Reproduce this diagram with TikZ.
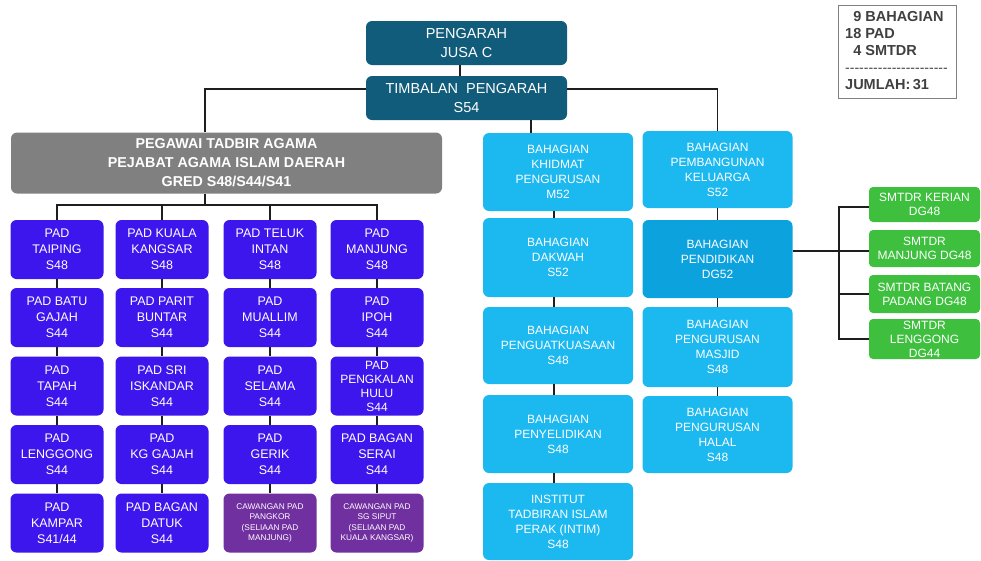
\documentclass[tikz,border=0pt]{standalone}
\usepackage{fontspec}
\setmainfont{Liberation Sans}
\definecolor{tealc}{RGB}{16,92,122}
\definecolor{grayc}{RGB}{128,128,128}
\definecolor{padc}{RGB}{60,22,236}
\definecolor{violc}{RGB}{112,48,160}
\definecolor{bluec}{RGB}{28,184,240}
\definecolor{bluedk}{RGB}{12,162,222}
\definecolor{greenc}{RGB}{62,192,62}
\definecolor{legtext}{RGB}{64,64,64}
\definecolor{linec}{RGB}{30,30,30}
\tikzset{
  base/.style={rounded corners=6pt, inner sep=0pt, align=center, text=white},
  topbox/.style={base, fill=tealc, minimum width=201pt, minimum height=44pt, font=\fontsize{14.5}{19}\selectfont},
  graybox/.style={base, fill=grayc, minimum width=431pt, minimum height=61pt, font=\bfseries\fontsize{14.3}{19}\selectfont},
  padbox/.style={base, fill=padc, minimum width=93pt, minimum height=59pt, font=\fontsize{12.5}{16}\selectfont},
  cawbox/.style={base, fill=violc, minimum width=93pt, minimum height=59pt, font=\fontsize{8.3}{10.2}\selectfont},
  bahbox/.style={base, fill=bluec, minimum width=150pt, font=\fontsize{12}{15}\selectfont},
  grnbox/.style={base, fill=greenc, minimum width=111pt, rounded corners=4pt, font=\fontsize{12}{14}\selectfont},
  conn/.style={draw=linec, line width=1.1pt},
}
\begin{document}
\begin{tikzpicture}[x=1pt,y=-1pt]
\useasboundingbox (0,0) rectangle (981,560);
% top
\node[topbox] (peng) at (466.5,43) {PENGARAH\\JUSA C};
\node[topbox] (tim) at (466.5,98) {TIMBALAN\ \ PENGARAH\\S54};
\node[graybox] (gray) at (226.5,163) {PEGAWAI TADBIR AGAMA\\PEJABAT AGAMA ISLAM DAERAH\\GRED S48/S44/S41};
% PAD columns
\node[padbox] (p11) at (57,249.5) {PAD\\TAIPING\\S48};
\node[padbox] (p12) at (57,317.5) {PAD BATU\\GAJAH\\S44};
\node[padbox] (p13) at (57,386) {PAD\\TAPAH\\S44};
\node[padbox] (p14) at (57,454.5) {PAD\\LENGGONG\\S44};
\node[padbox] (p15) at (57,523) {PAD\\KAMPAR\\S41/44};
\node[padbox] (p21) at (162,249.5) {PAD KUALA\\KANGSAR\\S48};
\node[padbox] (p22) at (162,317.5) {PAD PARIT\\BUNTAR\\S44};
\node[padbox] (p23) at (162,386) {PAD SRI\\ISKANDAR\\S44};
\node[padbox] (p24) at (162,454.5) {PAD\\KG GAJAH\\S44};
\node[padbox] (p25) at (162,523) {PAD BAGAN\\DATUK\\S44};
\node[padbox] (p31) at (270,249.5) {PAD TELUK\\INTAN\\S48};
\node[padbox] (p32) at (270,317.5) {PAD\\MUALLIM\\S44};
\node[padbox] (p33) at (270,386) {PAD\\SELAMA\\S44};
\node[padbox] (p34) at (270,454.5) {PAD\\GERIK\\S44};
\node[cawbox] (p35) at (270,523) {CAWANGAN PAD\\PANGKOR\\(SELIAAN PAD\\MANJUNG)};
\node[padbox] (p41) at (377,249.5) {PAD\\MANJUNG\\S48};
\node[padbox] (p42) at (377,317.5) {PAD\\IPOH\\S44};
\node[padbox,font=\fontsize{12}{14}\selectfont] (p43) at (377,386) {PAD\\PENGKALAN\\HULU\\S44};
\node[padbox] (p44) at (377,454.5) {PAD BAGAN\\SERAI\\S44};
\node[cawbox] (p45) at (377,523) {CAWANGAN PAD\\SG SIPUT\\(SELIAAN PAD\\KUALA KANGSAR)};
% Bahagian column A
\node[bahbox,minimum height=78pt] (a1) at (558,172) {BAHAGIAN\\KHIDMAT\\PENGURUSAN\\M52};
\node[bahbox,minimum height=79pt] (a2) at (558,257.5) {BAHAGIAN\\DAKWAH\\S52};
\node[bahbox,minimum height=77pt] (a3) at (558,345.5) {BAHAGIAN\\PENGUATKUASAAN\\S48};
\node[bahbox,minimum height=78pt] (a4) at (558,434) {BAHAGIAN\\PENYELIDIKAN\\S48};
\node[bahbox,minimum height=77pt] (a5) at (558,521.5) {INSTITUT\\TADBIRAN ISLAM\\PERAK (INTIM)\\S48};
% Bahagian column B
\node[bahbox,minimum height=77pt] (b1) at (717.5,169.5) {BAHAGIAN\\PEMBANGUNAN\\KELUARGA\\S52};
\node[bahbox,fill=bluedk,minimum height=78pt] (b2) at (717.5,259) {BAHAGIAN\\PENDIDIKAN\\DG52};
\node[bahbox,minimum height=80pt] (b3) at (717.5,347) {BAHAGIAN\\PENGURUSAN\\MASJID\\S48};
\node[bahbox,minimum height=77pt] (b4) at (717.5,434.5) {BAHAGIAN\\PENGURUSAN\\HALAL\\S48};
% SMTDR
\node[grnbox,minimum height=35pt] (g1) at (924.5,204.5) {SMTDR KERIAN\\DG48};
\node[grnbox,minimum height=37pt] (g2) at (924.5,248.5) {SMTDR\\MANJUNG DG48};
\node[grnbox,minimum height=38pt] (g3) at (924.5,294) {SMTDR BATANG\\PADANG DG48};
\node[grnbox,minimum height=40pt] (g4) at (924.5,339) {SMTDR\\LENGGONG\\DG44};
% legend
\node[draw=grayc, line width=1pt, minimum width=118pt, minimum height=93pt, inner sep=0pt] (leg) at (897,51.5) {};
\node[anchor=north west, inner sep=0pt, text=legtext, font=\bfseries\fontsize{14.5}{17}\selectfont] (legt) at (845,9)
 {\begin{tabular}{@{}r@{\ }l@{}}9 & BAHAGIAN\\18 & PAD\\4 & SMTDR\\\multicolumn{2}{@{}l@{}}{\mdseries\fontsize{14}{17}\selectfont -{}-{}-{}-{}-{}-{}-{}-{}-{}-{}-{}-{}-{}-{}-{}-{}-{}-{}-{}-{}-{}-}\\\multicolumn{2}{@{}l@{}}{JUMLAH:\,31}\end{tabular}};
% connectors
\draw[conn] ([xshift=-6.5pt]peng.south) -- ([xshift=-6.5pt]tim.north);
\draw[conn] ([yshift=9pt]tim.west) -| ([xshift=-21.5pt]gray.north);
\draw[conn] ([yshift=9pt]tim.east) -| (b1.north);
\draw[conn] ([xshift=-27pt]a1.north) -- ([xshift=-27pt]a1.north |- tim.south);
\draw[conn] ([xshift=-21.5pt]gray.south) -- ([xshift=-21.5pt]gray.south |- 0,205);
\draw[conn] (p11.north) -- (p11.north |- 0,205) -- (p41.north |- 0,205) -- (p41.north);
\draw[conn] (p21.north) -- (p21.north |- 0,205);
\draw[conn] (p31.north) -- (p31.north |- 0,205);
\foreach \c in {1,2,3,4}{
  \draw[conn] (p\c1) -- (p\c2);
  \draw[conn] (p\c2) -- (p\c3);
  \draw[conn] (p\c3) -- (p\c4);
  \draw[conn] (p\c4) -- (p\c5);
}
\draw[conn] ([xshift=-4pt]a1.south) -- ([xshift=-4pt]a2.north);
\draw[conn] ([xshift=-4pt]a2.south) -- ([xshift=-4pt]a3.north);
\draw[conn] ([xshift=-4pt]a3.south) -- ([xshift=-4pt]a4.north);
\draw[conn] ([xshift=-4pt]a4.south) -- ([xshift=-4pt]a5.north);
\draw[conn] (b1) -- (b2);
\draw[conn] (b2) -- (b3);
\draw[conn] (b3) -- (b4);
\draw[conn] ([yshift=8pt]b2.east) -- ([yshift=8pt]b2.east -| g2.west);
\draw[conn] ([yshift=-2.5pt]g1.west) -- ([yshift=-2.5pt]g1.west -| 839,0) -- (g4.west -| 839,0) -- (g4.west);
\draw[conn] (g3.west) -- (g3.west -| 839,0);
\end{tikzpicture}
\end{document}
